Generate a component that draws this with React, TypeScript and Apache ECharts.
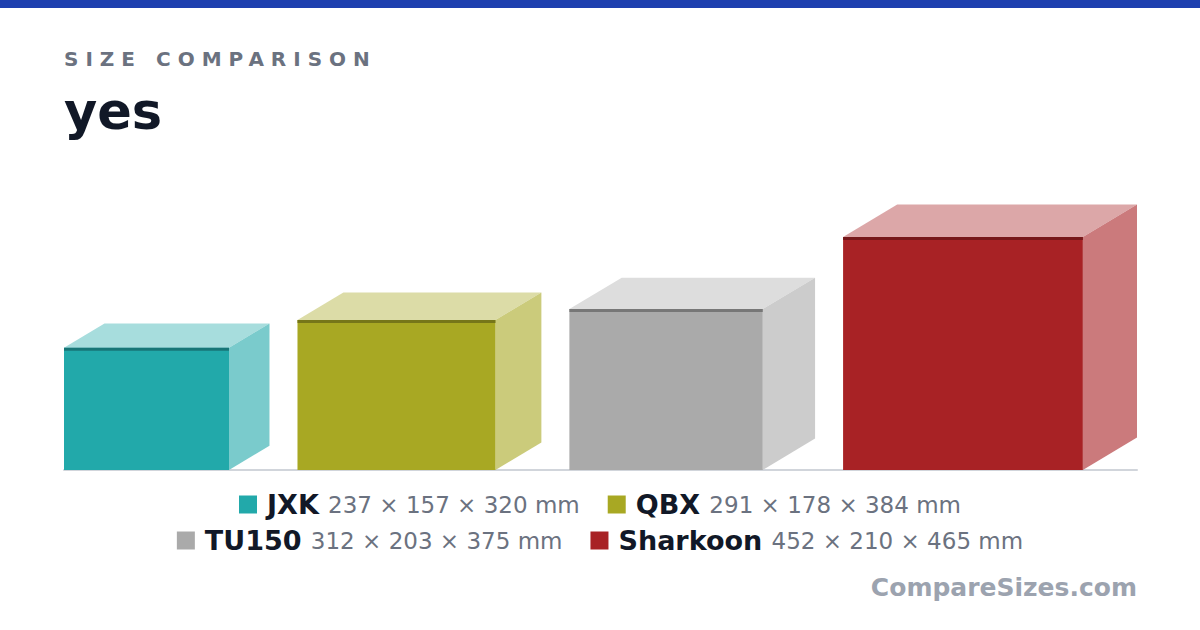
import React, { useEffect, useRef } from "react";
import * as echarts from "echarts";

// ---- data ----
const names = ["JXK", "QBX", "TU150", "Sharkoon"];
const widthsMm = [237, 291, 312, 452];
const depthsMm = [157, 178, 203, 210];
const heightsMm = [320, 384, 375, 465];
const palette = ["#22a9aa", "#a8a823", "#aaaaaa", "#a82225"];
const legendRows = [
  ["JXK", "QBX"],
  ["TU150", "Sharkoon"],
];
const kicker = "SIZE COMPARISON";
const heading = "yes";
const watermark = "CompareSizes.com";

// ---- layout constants ----
const W = 1200;
const H = 630;
const GRID_LEFT = 64;
const GRID_RIGHT = 63;
const GRID_TOP = 170;
const GRID_BOTTOM = 160;
const GAP_PX = 28;
const DEPTH_X = 0.5;
const DEPTH_Y = 0.3;
const FONT = "'DejaVu Sans', 'Noto Sans', sans-serif";

function mix(hex: string, target: number, t: number): string {
  const h = hex.replace("#", "");
  const c = [0, 2, 4].map((i) => parseInt(h.slice(i, i + 2), 16));
  const m = c.map((v) => Math.round(v + (target - v) * t));
  return "#" + m.map((v) => v.toString(16).padStart(2, "0")).join("");
}

export default function App() {
  const ref = useRef<HTMLDivElement>(null);

  useEffect(() => {
    if (!ref.current) return;
    const chart = echarts.init(ref.current, null, { renderer: "svg" });

    const plotW = W - GRID_LEFT - GRID_RIGHT;
    const plotH = H - GRID_TOP - GRID_BOTTOM;
    const sumFront = heightsMm.reduce((a, b) => a + b, 0);
    const sumDepth = depthsMm.reduce((a, b) => a + b, 0) * DEPTH_X;
    const gaps = names.length - 1;
    const k = (plotW - gaps * GAP_PX) / (sumFront + sumDepth); // px per mm
    const xMax = plotW / k;
    const yMax = plotH / k;
    const gapMm = GAP_PX / k;

    const starts: number[] = [];
    let acc = 0;
    names.forEach((_, i) => {
      starts.push(acc);
      acc += heightsMm[i] + depthsMm[i] * DEPTH_X + gapMm;
    });

    const renderBox = (params: any, api: any) => {
      const x0 = api.value(0);
      const fw = api.value(1);
      const fh = api.value(2);
      const d = api.value(3);
      const color = api.visual("color");
      const bl = api.coord([x0, 0]);
      const tr = api.coord([x0 + fw, fh]);
      const off = api.coord([x0 + fw + d * DEPTH_X, fh + d * DEPTH_Y]);
      const dx = off[0] - tr[0];
      const dy = tr[1] - off[1];
      return {
        type: "group",
        children: [
          {
            type: "polygon",
            shape: {
              points: [
                [bl[0], tr[1]],
                [tr[0], tr[1]],
                [tr[0] + dx, tr[1] - dy],
                [bl[0] + dx, tr[1] - dy],
              ],
            },
            style: { fill: mix(color, 255, 0.6) },
          },
          {
            type: "polygon",
            shape: {
              points: [
                [tr[0], tr[1]],
                [tr[0] + dx, tr[1] - dy],
                [tr[0] + dx, bl[1] - dy],
                [tr[0], bl[1]],
              ],
            },
            style: { fill: mix(color, 255, 0.4) },
          },
          {
            type: "rect",
            shape: { x: bl[0], y: tr[1], width: tr[0] - bl[0], height: bl[1] - tr[1] },
            style: { fill: color },
          },
          {
            type: "rect",
            shape: { x: bl[0], y: tr[1], width: tr[0] - bl[0], height: 3 },
            style: { fill: mix(color, 0, 0.3) },
          },
        ],
      };
    };

    const series = names.map((name, i) => ({
      type: "custom",
      name,
      coordinateSystem: "cartesian2d",
      itemStyle: { color: palette[i] },
      data: [[starts[i], heightsMm[i], widthsMm[i], depthsMm[i]]],
      encode: { x: 0, y: 2 },
      renderItem: renderBox,
      clip: false,
      silent: true,
      z: 3,
    }));

    const fmt = (name: string) => {
      const i = names.indexOf(name);
      return `{n|${name}}{d| ${widthsMm[i]} × ${depthsMm[i]} × ${heightsMm[i]} mm}`;
    };

    const legendTops = [491, 527];

    const option: any = {
      animation: false,
      backgroundColor: "#ffffff",
      textStyle: { fontFamily: FONT },
      grid: { left: GRID_LEFT, right: GRID_RIGHT, top: GRID_TOP, bottom: GRID_BOTTOM },
      xAxis: {
        type: "value",
        min: 0,
        max: xMax,
        axisLine: { show: true, lineStyle: { color: "#d1d5db", width: 2 } },
        axisTick: { show: false },
        axisLabel: { show: false },
        splitLine: { show: false },
      },
      yAxis: {
        type: "value",
        min: 0,
        max: yMax,
        show: false,
      },
      legend: legendRows.map((row, r) => ({
        data: row,
        top: legendTops[r],
        left: "center",
        orient: "horizontal",
        icon: "rect",
        itemWidth: 18,
        itemHeight: 18,
        itemGap: 28,
        padding: 0,
        selectedMode: false,
        formatter: fmt,
        textStyle: {
          fontFamily: FONT,
          rich: {
            n: {
              fontFamily: FONT,
              fontSize: 27,
              fontWeight: "bold",
              color: "#111827",
              padding: [0, 0, 0, 5],
              lineHeight: 30,
            },
            d: {
              fontFamily: FONT,
              fontSize: 23,
              color: "#6b7280",
              padding: [0, 0, 0, 2],
              lineHeight: 30,
            },
          },
        },
      })),
      graphic: [
        {
          type: "rect",
          shape: { x: 0, y: 0, width: W, height: 8 },
          style: { fill: "#1e40af" },
          silent: true,
        },
        {
          type: "text",
          x: 64,
          y: 59,
          style: {
            text: kicker,
            fill: "#6b7280",
            font: `bold 20px ${FONT}`,
            verticalAlign: "middle",
            align: "left",
          },
          silent: true,
        },
        {
          type: "text",
          x: 64,
          y: 111,
          style: {
            text: heading,
            fill: "#111827",
            font: `bold 51px ${FONT}`,
            verticalAlign: "middle",
            align: "left",
          },
          silent: true,
        },
        {
          type: "text",
          x: 1137,
          y: 587,
          style: {
            text: watermark,
            fill: "#9ca3af",
            font: `bold 25px ${FONT}`,
            verticalAlign: "middle",
            align: "right",
          },
          silent: true,
        },
      ],
      series,
    };

    chart.setOption(option);

    const spaceKicker = () => {
      const root = ref.current;
      if (!root) return;
      root.querySelectorAll("text").forEach((t) => {
        if (t.textContent === kicker) {
          (t as SVGTextElement).style.letterSpacing = "7px";
        }
      });
    };
    spaceKicker();
    chart.on("finished", spaceKicker);

    return () => {
      chart.dispose();
    };
  }, []);

  return (
    <div
      ref={ref}
      style={{ position: "fixed", left: 0, top: 0, width: W, height: H, background: "#ffffff" }}
    />
  );
}
